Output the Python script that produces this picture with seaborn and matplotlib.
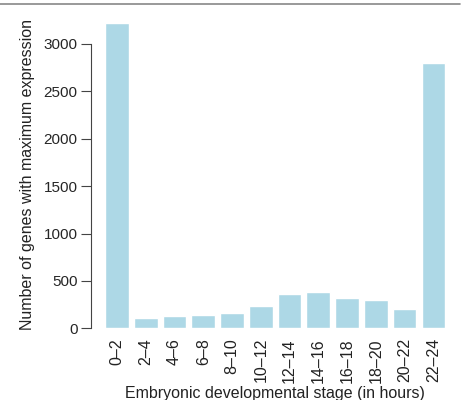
import matplotlib
matplotlib.use("Agg")
import matplotlib.pyplot as plt
import pandas as pd
import seaborn as sns
from matplotlib.lines import Line2D

stages = ["0\u20132", "2\u20134", "4\u20136", "6\u20138", "8\u201310", "10\u201312",
          "12\u201314", "14\u201316", "16\u201318", "18\u201320", "20\u201322", "22\u201324"]
gene_counts = [3215, 109, 130, 144, 165, 232, 358, 383, 323, 298, 207, 2800]
y_ticks = [0, 500, 1000, 1500, 2000, 2500, 3000]

df = pd.DataFrame({"stage": stages, "count": gene_counts})

sns.set_theme(style="white")
plt.rcParams["font.family"] = ["Liberation Sans", "DejaVu Sans"]

fig = plt.figure(figsize=(4.64, 4.0), dpi=100)
ax = fig.add_axes([0.197, 0.179, 0.792, 0.771])

sns.barplot(data=df, x="stage", y="count", color="#ADD8E6", saturation=1,
            width=0.82, ax=ax)

ax.set_xlim(-0.89, 11.89)
ax.set_ylim(0, 3250)
ax.set_yticks(y_ticks)
ax.set_yticklabels([str(t) for t in y_ticks], fontsize=11.5, color="#222222")
ax.set_xticks(range(len(stages)))
ax.set_xticklabels(stages, rotation=90, fontsize=11.5, color="#222222")
ax.tick_params(axis="y", direction="out", length=7, width=0.8, color="#444444",
               pad=3, left=True)
ax.tick_params(axis="x", length=0, pad=7)

for side in ["top", "right", "bottom"]:
    ax.spines[side].set_visible(False)
ax.spines["left"].set_bounds(0, 3000)
ax.spines["left"].set_color("#444444")
ax.spines["left"].set_linewidth(0.8)
ax.spines["left"].set_position(("data", -0.89))

ax.set_xlabel("Embryonic developmental stage (in hours)", fontsize=11.5,
              color="#222222", labelpad=2)
ax.set_ylabel("Number of genes with maximum expression", fontsize=11.5,
              color="#222222", labelpad=6)

# thin frame line at the top of the panel
fig.add_artist(Line2D([0.0, 0.992], [0.989, 0.989], transform=fig.transFigure,
                      color="#888888", linewidth=1.2))

fig.savefig("out.png", dpi=100)
